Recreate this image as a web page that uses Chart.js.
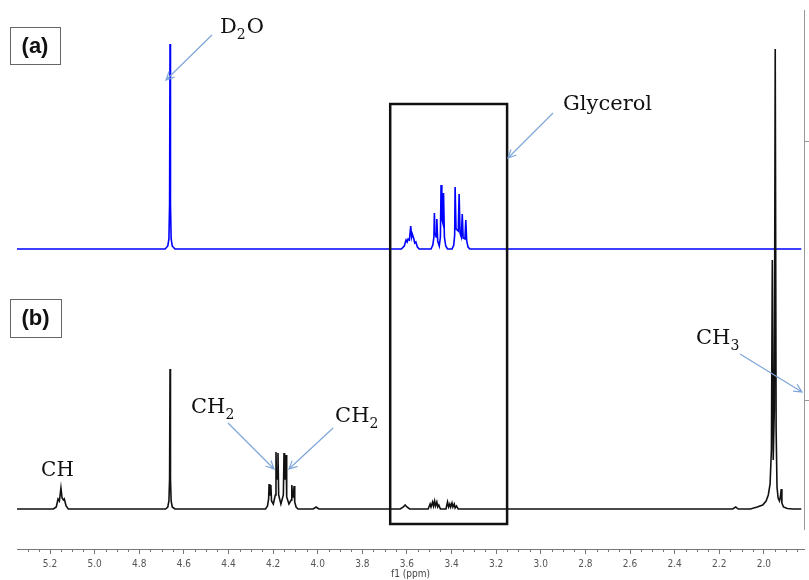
<!DOCTYPE html>
<html>
<head>
<meta charset="utf-8">
<script src="https://cdn.jsdelivr.net/npm/chart.js@4.4.1/dist/chart.umd.min.js"></script>
<style>
  html, body { margin: 0; padding: 0; background: #fff; }
  #wrap { width: 809px; height: 580px; }
</style>
</head>
<body>
<div id="wrap"><canvas id="nmr" width="809" height="580"></canvas></div>
<script>
// (b) black trace: [ppm, intensity]
const traceB = [
  [5.35, 0], [5.30, 0],
  [5.185, 0], [5.172, 2], [5.164, 10], [5.158, 8], [5.151, 21], [5.146, 11], [5.140, 9], [5.136, 10], [5.128, 3], [5.118, 0],
  [4.90, 0],
  [4.682, 0], [4.672, 2], [4.667, 8], [4.664, 30], [4.662, 140], [4.660, 30], [4.657, 8], [4.652, 2], [4.640, 0],
  [4.234, 0], [4.225, 3], [4.220, 10], [4.218, 25], [4.215, 14], [4.212, 14], [4.210, 24], [4.207, 8], [4.199, 5],
  [4.190, 14], [4.187, 57], [4.1845, 30], [4.181, 30], [4.178, 56], [4.175, 14], [4.165, 5],
  [4.154, 14], [4.151, 56], [4.1485, 30], [4.145, 30], [4.142, 54], [4.139, 12], [4.129, 5],
  [4.119, 9], [4.116, 24], [4.113, 12], [4.109, 12], [4.106, 23], [4.103, 7], [4.097, 2], [4.088, 0],
  [4.020, 0], [4.007, 2], [3.995, 0],
  [3.630, 0], [3.616, 2], [3.608, 4], [3.600, 2], [3.588, 0],
  [3.505, 0], [3.496, 5], [3.492, 2], [3.485, 7], [3.481, 3], [3.476, 8], [3.472, 3], [3.466, 7], [3.462, 2], [3.457, 4], [3.450, 0],
  [3.425, 0], [3.418, 7], [3.413, 2], [3.408, 5], [3.404, 2], [3.398, 6], [3.394, 2], [3.388, 5], [3.384, 1], [3.378, 3], [3.370, 0],
  [2.140, 0], [2.126, 2], [2.115, 0],
  [2.060, 0], [2.030, 2], [2.005, 4], [1.990, 8], [1.980, 14], [1.972, 25], [1.966, 60], [1.962, 249], [1.958, 49],
  [1.953, 100], [1.949, 460], [1.945, 80], [1.941, 22], [1.936, 11], [1.930, 8], [1.926, 12], [1.922, 20], [1.919, 6],
  [1.912, 2], [1.895, 0.5], [1.870, 0], [1.832, 0]
];

// (a) blue trace: [ppm, intensity]
const traceA = [
  [5.35, 0], [4.90, 0],
  [4.684, 0], [4.672, 3], [4.667, 10], [4.664, 45], [4.662, 205], [4.660, 45], [4.657, 10], [4.652, 3], [4.640, 0],
  [3.625, 0], [3.612, 3], [3.604, 9], [3.599, 7], [3.595, 10], [3.589, 9], [3.583, 23], [3.579, 12], [3.576, 15],
  [3.570, 11], [3.565, 6], [3.560, 7], [3.553, 2], [3.545, 0],
  [3.492, 0], [3.484, 4], [3.479, 12], [3.477, 36], [3.474, 16], [3.469, 12], [3.466, 30], [3.462, 8], [3.455, 3],
  [3.450, 12], [3.447, 64], [3.4435, 30], [3.439, 26], [3.436, 56], [3.432, 12], [3.426, 3], [3.418, 0],
  [3.398, 0], [3.390, 4], [3.386, 14], [3.384, 62], [3.380, 20], [3.370, 18], [3.366, 55], [3.362, 16], [3.356, 12],
  [3.352, 35], [3.348, 11], [3.340, 10], [3.336, 29], [3.332, 8], [3.326, 2], [3.318, 0],
  [1.832, 0]
];

const offsetA = 260;        // (a) stacked above (b)
const yTickValues = [109, 368];

// annotations, in ppm / intensity units
const labels = [
  { parts: ['D', ['2'], 'O'], x: 4.438, y: 476, size: 21 },
  { parts: ['Glycerol'], x: 2.900, y: 399, size: 21 },
  { parts: ['CH'], x: 5.240, y: 33, size: 20 },
  { parts: ['CH', ['2']], x: 4.568, y: 96, size: 21 },
  { parts: ['CH', ['2']], x: 3.922, y: 87, size: 21 },
  { parts: ['CH', ['3']], x: 2.304, y: 165, size: 21 }
];
const arrows = [
  [4.474, 474, 4.680, 429],
  [2.945, 396, 3.147, 351],
  [4.402, 86, 4.196, 40],
  [3.931, 81, 4.129, 40],
  [2.107, 155, 1.829, 117]
];
const glycerolBox = [3.675, 405, 3.151, -15];
const tags = [
  { text: '(a)', x: 10, y: 27, w: 50, h: 37 },
  { text: '(b)', x: 10, y: 299, w: 51, h: 38 }
];

const isMajor = v => Math.abs(v * 5 - Math.round(v * 5)) < 1e-6;

const drawFormula = (ctx, parts, x, y, size) => {
  let cx = x;
  for (const p of parts) {
    const sub = Array.isArray(p);
    const txt = sub ? p[0] : p;
    ctx.font = `${sub ? Math.round(size * 0.68) : size}px "DejaVu Serif"`;
    ctx.fillText(txt, cx, sub ? y + size * 0.3 : y);
    cx += ctx.measureText(txt).width + (sub ? 1 : 0);
  }
};

const decorations = {
  id: 'decorations',
  afterDraw(chart) {
    const { ctx, chartArea, scales: { x, y } } = chart;
    ctx.save();

    // right axis line + ticks
    ctx.strokeStyle = '#999';
    ctx.lineWidth = 1;
    ctx.beginPath();
    ctx.moveTo(chartArea.right + 0.5, y.getPixelForValue(y.max));
    ctx.lineTo(chartArea.right + 0.5, y.getPixelForValue(-21));
    yTickValues.forEach(v => {
      const py = Math.round(y.getPixelForValue(v)) + 0.5;
      ctx.moveTo(chartArea.right, py);
      ctx.lineTo(chartArea.right + 6, py);
    });
    ctx.stroke();

    // minor x ticks (shorter)
    ctx.strokeStyle = '#777';
    ctx.beginPath();
    x.ticks.forEach(t => {
      if (isMajor(t.value)) return;
      const px = Math.round(x.getPixelForValue(t.value)) + 0.5;
      ctx.moveTo(px, chartArea.bottom);
      ctx.lineTo(px, chartArea.bottom + 3);
    });
    ctx.stroke();

    // glycerol box
    const [bx1, by1, bx2, by2] = glycerolBox;
    ctx.strokeStyle = '#111';
    ctx.lineWidth = 2.5;
    const rx = x.getPixelForValue(bx1), ry = y.getPixelForValue(by1);
    ctx.strokeRect(rx, ry, x.getPixelForValue(bx2) - rx, y.getPixelForValue(by2) - ry);

    // arrows
    ctx.strokeStyle = '#7ea6d8';
    ctx.lineWidth = 1.2;
    arrows.forEach(([x1, y1, x2, y2]) => {
      const p1x = x.getPixelForValue(x1), p1y = y.getPixelForValue(y1);
      const p2x = x.getPixelForValue(x2), p2y = y.getPixelForValue(y2);
      const ang = Math.atan2(p2y - p1y, p2x - p1x);
      const hl = 9;
      ctx.beginPath();
      ctx.moveTo(p1x, p1y);
      ctx.lineTo(p2x, p2y);
      ctx.moveTo(p2x - hl * Math.cos(ang - 0.45), p2y - hl * Math.sin(ang - 0.45));
      ctx.lineTo(p2x, p2y);
      ctx.lineTo(p2x - hl * Math.cos(ang + 0.45), p2y - hl * Math.sin(ang + 0.45));
      ctx.stroke();
    });

    // labels
    ctx.fillStyle = '#111';
    ctx.textBaseline = 'alphabetic';
    ctx.textAlign = 'left';
    labels.forEach(l => drawFormula(ctx, l.parts, x.getPixelForValue(l.x), y.getPixelForValue(l.y), l.size));

    // panel tags
    ctx.strokeStyle = '#666';
    ctx.lineWidth = 1;
    ctx.font = 'bold 22px "Liberation Sans", Arial, sans-serif';
    ctx.textAlign = 'center';
    ctx.textBaseline = 'middle';
    tags.forEach(t => {
      ctx.strokeRect(t.x + 0.5, t.y + 0.5, t.w, t.h);
      ctx.fillText(t.text, t.x + t.w / 2, t.y + t.h / 2 + 1);
    });

    ctx.restore();
  }
};

new Chart(document.getElementById('nmr'), {
  type: 'line',
  data: {
    datasets: [
      {
        label: '(b)',
        data: traceB.map(([px, v]) => ({ x: px, y: v })),
        borderColor: '#111',
        borderWidth: 1.6,
        pointRadius: 0,
        tension: 0
      },
      {
        label: '(a)',
        data: traceA.map(([px, v]) => ({ x: px, y: v + offsetA })),
        borderColor: '#0000ff',
        borderWidth: 1.6,
        pointRadius: 0,
        tension: 0
      }
    ]
  },
  options: {
    responsive: false,
    animation: false,
    layout: { padding: { left: 17, right: 5, top: 10, bottom: 0 } },
    plugins: {
      legend: { display: false },
      tooltip: { enabled: false }
    },
    scales: {
      x: {
        type: 'linear',
        reverse: true,
        min: 1.82,
        max: 5.348,
        afterFit: s => { s.height = 31; },
        border: { color: '#777' },
        grid: {
          drawOnChartArea: false,
          tickLength: 5,
          tickColor: c => (c.tick && isMajor(c.tick.value)) ? '#777' : 'rgba(0,0,0,0)'
        },
        ticks: {
          stepSize: 0.05,
          autoSkip: false,
          includeBounds: false,
          maxRotation: 0,
          padding: 4,
          color: '#555',
          font: { family: '"DejaVu Sans Condensed", "DejaVu Sans"', size: 10 },
          callback: v => isMajor(v) ? v.toFixed(1) : ''
        },
        title: {
          display: true,
          text: 'f1 (ppm)',
          color: '#444',
          padding: 0,
          font: { family: '"DejaVu Sans Condensed", "DejaVu Sans"', size: 10 }
        }
      },
      y: { display: false, min: -40, max: 499 }
    }
  },
  plugins: [decorations]
});
</script>
</body>
</html>
